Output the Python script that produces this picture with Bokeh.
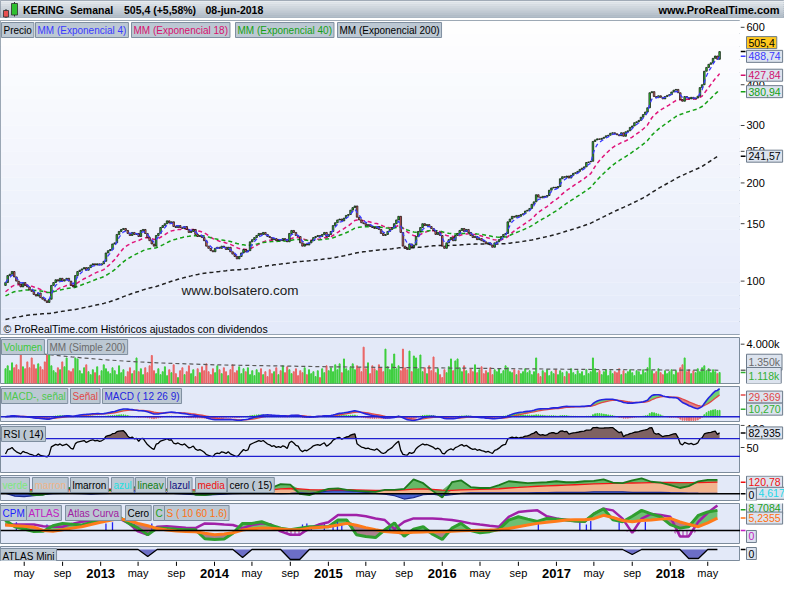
import numpy as np
import pandas as pd
from bokeh.plotting import figure
from bokeh.layouts import column, row
from bokeh.models import Range1d, ColumnDataSource, Label, Span, BoxAnnotation
from bokeh.core.properties import value
from bokeh.embed import file_html
from bokeh.resources import INLINE

# ---------------- data ----------------
last_week = "2018-06-08"
first_open = 97.0
closes = [
    99, 104, 105, 107, 103, 100, 98, 96, 99, 97,
    96, 94, 93, 91, 90, 92, 89, 88, 87, 86,
    88, 97, 99, 101, 100, 102, 100, 101, 102, 100,
    97, 96, 104, 107, 108, 109, 110, 108, 110, 112,
    113, 112, 113, 112, 113, 115, 122, 124, 125, 130,
    131, 139, 142, 144, 145, 143, 140, 138, 141, 139,
    140, 137, 143, 144, 140, 136, 133, 130, 128, 138,
    140, 146, 148, 150, 153, 151, 152, 147, 146, 148,
    146, 145, 147, 144, 141, 142, 144, 139, 137, 138,
    136, 133, 128, 126, 124, 123, 126, 127, 126, 128,
    127, 125, 127, 123, 121, 119, 117, 119, 122, 125,
    123, 124, 132, 134, 136, 138, 140, 139, 141, 139,
    137, 136, 134, 135, 133, 134, 133, 135, 134, 132,
    140, 143, 141, 138, 137, 131, 128, 130, 129, 131,
    133, 136, 137, 138, 137, 139, 141, 137, 139, 142,
    148, 151, 154, 155, 153, 156, 159, 160, 165, 168,
    170, 157, 154, 151, 150, 148, 149, 147, 146, 145,
    147, 144, 140, 138, 139, 142, 144, 146, 150, 154,
    158, 141, 128, 126, 125, 130, 127, 129, 137, 142,
    146, 150, 148, 149, 147, 145, 143, 139, 141, 138,
    128, 126, 131, 134, 136, 133, 138, 140, 143, 145,
    142, 144, 141, 138, 136, 137, 134, 135, 133, 132,
    130, 131, 129, 127, 131, 132, 134, 137, 139, 140,
    152, 155, 158, 157, 159, 158, 160, 161, 164, 165,
    167, 172, 175, 184, 181, 180, 182, 181, 183, 190,
    193, 194, 193, 195, 206, 209, 208, 210, 207, 211,
    214, 215, 217, 220, 222, 224, 231, 232, 233, 268,
    271, 273, 272, 274, 276, 279, 280, 284, 285, 283,
    281, 279, 285, 278, 287, 289, 296, 299, 306, 308,
    311, 318, 324, 330, 340, 378, 381, 368, 365, 370,
    366, 362, 368, 371, 373, 380, 385, 387, 378, 360,
    356, 368, 365, 362, 366, 362, 364, 369, 392, 400,
    440, 452, 462, 467, 482, 490, 478.7, 505.4,
]
volumes = [  # thousands of shares
    1500, 1800, 1300, 2100, 1600, 1900, 1400, 3200, 1700, 1500,
    2200, 1600, 2600, 1900, 1500, 2000, 1700, 1400, 2200, 2900,
    3200, 1800, 1300, 1100, 1600, 1400, 2200, 1700, 2600, 1300,
    1200, 1500, 2600, 2500, 1300, 1000, 1600, 1900, 1200, 900,
    1400, 1100, 1700, 800, 1300, 1900, 1500, 1200, 1000, 1600,
    1300, 900, 1800, 1100, 1400, 700, 1200, 1600, 1000, 1300,
    2600, 1200, 1500, 900, 1600, 1100, 1800, 2850, 1300, 1000,
    1500, 900, 1200, 1700, 800, 1400, 1100, 1900, 1000, 600,
    1300, 1600, 900, 1200, 1800, 1000, 1400, 700, 1500, 1100,
    1700, 1300, 2000, 1200, 900, 1500, 1100, 1800, 1400, 1000,
    1600, 1200, 800, 1400, 1900, 1100, 1300, 1700, 1000, 1500,
    1200, 1600, 900, 1300, 800, 1400, 1100, 1500, 900, 1200,
    700, 1400, 1000, 1200, 1600, 900, 1300, 1800, 1100, 1700,
    1400, 1000, 1200, 1500, 800, 1300, 1100, 1600, 900, 1400,
    1000, 1200, 700, 1300, 600, 1500, 1100, 1800, 1300, 1600,
    1200, 1900, 1400, 2000, 1100, 2500, 1500, 1300, 1700, 2000,
    1400, 1800, 1600, 1200, 3700, 1500, 2100, 1000, 1800, 1500,
    1300, 1900, 1600, 1200, 3500, 1700, 1400, 2000, 3000, 1500,
    1800, 1300, 3500, 1600, 1400, 3300, 1200, 2800, 2600, 1500,
    2900, 1200, 1600, 1000, 1800, 1300, 2700, 1100, 1500, 900,
    600, 1400, 1100, 1700, 2500, 1300, 2300, 2500, 1600, 1200,
    1800, 1300, 1000, 1500, 1200, 1900, 1100, 1400, 1700, 1000,
    1300, 1100, 1600, 900, 1400, 1200, 1500, 1000, 1300, 1800,
    1600, 1200, 1100, 1400, 900, 1300, 1000, 1200, 1500, 1100,
    1300, 900, 1200, 2600, 1000, 700, 1300, 1100, 1400, 800,
    1200, 1000, 1400, 900, 1300, 1100, 700, 1200, 1000, 1500,
    1100, 900, 1300, 1000, 1200, 800, 1400, 1000, 1200, 2600,
    1500, 1100, 1300, 900, 1200, 1400, 800, 1300, 1000, 1200,
    1100, 1500, 900, 1300, 1000, 1200, 1400, 1100, 800, 1300,
    1200, 900, 1400, 1100, 1600, 2600, 1300, 1000, 1200, 1500,
    1100, 900, 1300, 1000, 1200, 1400, 900, 1300, 1100, 1600,
    1900, 2600, 1200, 1400, 1000, 1300, 1100, 1500, 1200, 1600,
    1800, 1300, 1500, 1100, 1400, 1200, 1000, 1118,
]
ema_periods = [4, 18, 40, 200]
ema_first_values = [99.0, 92.0, 89.6, 76.0]

vol_sma_dates = ["2012-04-01", "2012-07-01", "2012-10-01", "2013-01-01", "2013-04-01",
                 "2013-07-01", "2013-10-01", "2014-01-01", "2014-04-01", "2014-07-01",
                 "2014-10-01", "2015-01-01", "2015-04-01", "2015-07-01", "2015-10-01",
                 "2016-01-01", "2016-04-01", "2016-07-01", "2016-10-01", "2017-01-01",
                 "2017-04-01", "2017-07-01", "2017-10-01", "2018-01-01", "2018-06-08"]
vol_sma = [3250, 3000, 2700, 2450, 2250, 2100, 2000, 1900, 1850, 1800, 1750, 1700, 1670,
           1640, 1610, 1580, 1550, 1520, 1490, 1460, 1430, 1410, 1390, 1370, 1350]

# monthly readings of the custom indicators (Mar 2012 .. Jun 2018)
month_start = "2012-03-01"
media = [45, 45, 44, 42, 40, 40, 42, 44, 46, 48,
         48, 47, 46, 47, 50, 52, 50, 48, 46, 44, 40, 36,
         33, 30, 30, 32, 34, 36, 40, 50, 55, 50, 44, 40,
         40, 42, 42, 40, 38, 36, 35, 36, 40, 48, 50, 45,
         38, 36, 40, 44, 46, 48, 52, 60, 66, 72, 78, 82,
         86, 90, 94, 98, 102, 106, 108, 110, 112, 114, 116, 117,
         117, 116, 116, 117, 119, 121]
lineav = [50, 45, 20, -15, -10, 20, 55, 60, 50, 45,
          40, 35, 40, 55, 75, 70, 50, 40, 45, 30, -10, -15,
          0, 20, 30, 35, 40, 50, 60, 100, 95, 0, -15, 20,
          50, 55, 40, 30, 25, 20, 40, 40, 50, 150, 110, 30,
          -40, 120, 140, 70, 60, 60, 90, 130, 120, 110, 115, 120,
          130, 120, 120, 130, 135, 150, 115, 110, 140, 160, 125, 115,
          90, 60, 80, 130, 145, 145]
lazul = [5, -25, -30, -20, -10, 0, 5, 5, 0, -5,
         0, 5, 10, 20, 45, 50, 30, 10, 0, -5, -10, -15,
         -10, -5, 0, 5, 10, 10, 5, 0, 5, 10, 5, 15,
         30, 35, 30, 25, 15, 5, -5, -20, -55, -40, -10, -5,
         -20, -10, 5, 10, 10, 10, 10, 10, 10, 10, 12, 12,
         15, 15, 15, 15, 20, 20, 20, 20, 15, 15, 15, 15,
         12, 10, 8, 6, 5, 5]
curve_s = [2.3, 2.0, 1.8, 1.4, 0.0, -0.3, 0.3, 1.0, 1.6, 2.5,
           3.5, 4.3, 5.0, 4.2, 3.0, 2.0, 0.8, 0.2, -0.2, -0.4, -0.5, -1.2,
           -1.8, -1.5, -1.0, 0.2, 0.7, 1.0, 0.9, 0.6, 0.3, 0.3, 1.0, 1.3,
           1.6, 2.3, 3.0, 2.2, 1.2, 0.3, -0.4, -0.7, -1.0, -0.8, -0.6, -0.4,
           -0.5, -0.3, -0.1, 0.0, 0.1, 0.2, 0.3, 0.8, 1.6, 2.3, 3.0, 3.5,
           3.9, 4.4, 4.5, 4.5, 5.0, 6.4, 5.5, 4.2, 3.7, 4.2, 4.4, 4.8,
           5.1, 3.6, 2.6, 1.6, 3.2, 5.2]
curve_c = [4.4, 1.6, 0.6, -0.4, -0.3, 2.0, 3.0, 2.6, 2.3, 3.3,
           4.4, 5.2, 5.8, 3.0, 1.0, -1.8, 1.0, 0.8, 0.5, 0.3, 0.3, -3.5,
           -3.8, -3.6, -1.2, 3.0, 3.0, 3.7, 2.2, 1.0, 0.3, 1.0, 1.6, 1.6,
           1.6, 4.4, 4.4, -1.8, -2.5, -3.0, 0.3, 3.2, -2.5, 0.5, 1.6, -1.6,
           -3.8, 1.0, 3.0, 0.0, -1.0, -0.5, 0.5, 4.4, 5.8, 4.8, 3.8, 5.1,
           4.8, 4.4, 4.0, 3.8, 7.0, 9.2, 4.5, 3.7, 6.0, 8.5, 7.0, 5.8,
           2.5, 1.0, 1.6, 6.4, 7.8, 8.5]
atlas = [2.3, 2.5, 2.5, 2.5, 1.8, 1.6, 1.6, 2.8, 3.7, 4.0,
         4.4, 4.8, 5.1, 3.0, -0.4, -1.8, 1.6, 1.8, 1.5, 1.2, 1.0, 3.0,
         2.8, 2.5, 2.3, 1.0, 2.3, 3.0, 2.5, -0.4, -1.8, -1.8, 1.0, 2.5,
         3.5, 6.5, 6.5, 6.5, 6.0, 5.1, 4.4, 0.6, 3.7, 5.1, 5.1, 5.1,
         4.8, 4.4, 3.8, 3.0, 2.5, 2.0, 1.6, 5.8, 7.8, 8.2, 8.5, 6.0,
         5.1, 4.4, 4.0, 3.7, 7.0, 9.2, 8.5, 5.0, -1.0, 5.0, 7.0, 6.5,
         5.8, -2.5, -2.5, 3.7, 7.5, 10.6]
atlas_mini = [0, 0, 0, 0, 0, 0, 0, 0, 0, 0,
              0, 0, 0, 0, 0, -0.7, 0, 0, 0, 0, 0, 0,
              0, 0, 0, -0.8, 0, 0, 0, 0, -1.0, -1.0, 0, 0,
              0, 0, 0, 0, 0, 0, 0, 0, 0, 0, 0, 0,
              0, 0, 0, 0, 0, 0, 0, 0, 0, 0, 0, 0,
              0, 0, 0, 0, 0, 0, 0, 0, -0.5, 0, 0, 0,
              0, 0, -0.9, -0.9, 0, 0]
cpm_dates = ["2012-04-06", "2012-07-13", "2013-01-18", "2013-02-08", "2013-04-19",
             "2013-06-14", "2014-10-10", "2014-10-24", "2014-11-07", "2014-12-19",
             "2015-01-16", "2015-01-30", "2015-02-13", "2015-07-17", "2016-11-04",
             "2017-03-17", "2017-04-07", "2017-04-21", "2017-07-21", "2017-10-13"]
cpm_heights = [3.5, 2.5, 3.0, 3.5, 2.5, 3.0, 2.5, 3.0, 2.0, 3.0,
               3.5, 4.0, 3.0, 2.5, 3.0, 3.5, 2.5, 4.0, 3.5, 3.7]

price_ticks = [100, 150, 200, 250, 300, 400, 600]
price_tick_labels = ["100", "150", "200", "250", "300", "400", "600"]
xtick_dates = ["2012-05-01", "2012-09-01", "2013-01-01", "2013-05-01", "2013-09-01",
               "2014-01-01", "2014-05-01", "2014-09-01", "2015-01-01", "2015-05-01",
               "2015-09-01", "2016-01-01", "2016-05-01", "2016-09-01", "2017-01-01",
               "2017-05-01", "2017-09-01", "2018-01-01", "2018-05-01"]
xtick_labels = ["may", "sep", "2013", "may", "sep", "2014", "may", "sep", "2015", "may",
                "sep", "2016", "may", "sep", "2017", "may", "sep", "2018", "may"]

# ---------------- derived series ----------------
n = len(closes)
dates = pd.date_range(end=last_week, periods=n, freq="7D")
close = np.array(closes, dtype=float)
opens = np.concatenate([[first_open], close[:-1]])
up = close >= opens


def ema(vals, period, start):
    a = 2.0 / (period + 1)
    out = np.empty(len(vals))
    e = start
    for i, v in enumerate(vals):
        e = e + a * (v - e)
        out[i] = e
    return out


emas = [ema(close, p_, s_) for p_, s_ in zip(ema_periods, ema_first_values)]
macd = ema(close, 12, close[0]) - ema(close, 26, close[0])
signal = ema(macd, 9, 0.0)
hist = macd - signal

ch = np.diff(close)
gain = np.clip(ch, 0, None)
loss = np.clip(-ch, 0, None)
ag, al = gain[:14].mean(), loss[:14].mean()
rsi = np.empty(n)
rsi[0] = 100 - 100 / (1 + ag / al)
for i in range(1, n):
    ag = (ag * 13 + gain[i - 1]) / 14
    al = (al * 13 + loss[i - 1]) / 14
    rsi[i] = 100 - 100 / (1 + ag / al) if al > 0 else 100.0

mdates = pd.date_range(month_start, periods=len(media), freq="MS")
media_a = np.array(media, float)
lineav_a = np.array(lineav, float)
lazul_a = np.array(lazul, float)
cs = np.array(curve_s, float)
cc = np.array(curve_c, float)
at = np.array(atlas, float)
mini = np.array(atlas_mini, float)

# ---------------- styling helpers ----------------
FW = 740
RB = 44
FONT = "Liberation Sans"
DAY = 86400000
GREEN = "#3CCF3C"
RED = "#EA6464"
PANEL_BG = "#E3E9F8"
EDGE = "#7D8C9C"
LEG_BG = "#BCC8D3"
LEG_EDGE = "#7F8FA0"
BOX_BG = "#DCE3EE"

xr = Range1d(start=pd.Timestamp("2012-02-15"), end=pd.Timestamp("2018-08-14"))


def panel(fh, yr, ylog=False, bg=PANEL_BG, bottom=1):
    p = figure(frame_width=FW, frame_height=fh, x_range=xr, y_range=yr,
               y_axis_type="log" if ylog else "linear",
               x_axis_location=None, y_axis_location=None,
               toolbar_location=None, output_backend="svg",
               min_border_left=0, min_border_right=0, min_border_top=2,
               min_border_bottom=bottom,
               background_fill_color=bg, border_fill_color="white",
               outline_line_color=EDGE, outline_line_width=1)
    p.grid.visible = False
    return p


def axis_fig(fh, yr, ylog=False, ticks=(), labels=(), bottom=1, top_tick=None):
    a = figure(frame_width=RB, frame_height=fh, x_range=Range1d(0, RB), y_range=yr,
               y_axis_type="log" if ylog else "linear",
               x_axis_location=None, y_axis_location=None,
               toolbar_location=None, output_backend="svg",
               min_border_left=0, min_border_right=0, min_border_top=2,
               min_border_bottom=bottom, outline_line_color=None,
               background_fill_color="white", border_fill_color="white")
    a.grid.visible = False
    if len(ticks):
        a.segment(x0=0, y0=list(ticks), x1=4, y1=list(ticks), line_color="#404040", line_width=1)
        a.text(x=6, y=list(ticks), text=list(labels), text_baseline="middle", text_align="left",
               text_font=value(FONT), text_font_size="11px", text_color="#000000")
    if top_tick is not None:
        tv, tl = top_tick
        a.segment(x0=[0], y0=[tv], x1=[4], y1=[tv], line_color="#404040", line_width=1)
        a.text(x=[6], y=[tv], text=[tl], text_baseline="top", text_align="left",
               text_font=value(FONT), text_font_size="11px", text_color="#000000")
    return a


def legend(p, fh, items):
    for x, txt, col in items:
        p.add_layout(Label(x=x, y=fh - 2, x_units="screen", y_units="screen",
                           text=txt, text_color=col, text_font=FONT, text_font_size="10px",
                           text_baseline="top", text_align="left",
                           background_fill_color=LEG_BG, border_line_color=LEG_EDGE,
                           padding=2))


def vbox(a, y, txt, col, bg=BOX_BG, dy=0, x=6, tick=True):
    if tick:
        a.segment(x0=[0], y0=[y], x1=[5], y1=[y], line_color=col, line_width=1.5)
    a.add_layout(Label(x=x, y=y, x_units="data", y_units="data", y_offset=dy,
                       text=txt, text_color=col, text_font=FONT, text_font_size="10.5px",
                       text_baseline="middle", text_align="left",
                       background_fill_color=bg, border_line_color="#6E7C8C",
                       padding=2))


# ---------------- title bar ----------------
pt = figure(frame_width=784, frame_height=18, x_range=Range1d(0, 784), y_range=Range1d(0, 18),
            x_axis_location=None, y_axis_location=None, toolbar_location=None,
            output_backend="svg", min_border=0, outline_line_color="#8A96A4",
            background_fill_color="#C8D0D8")
pt.grid.visible = False
bands_top = np.array([232, 236, 240])
bands_bot = np.array([170, 182, 194])
for k in range(9):
    t = k / 8.0
    rgb = (bands_top * (1 - t) + bands_bot * t).astype(int)
    pt.quad(left=0, right=784, top=18 - 2 * k, bottom=16 - 2 * k,
            fill_color="#%02x%02x%02x" % tuple(rgb), line_color=None)
pt.segment(x0=[5.5, 14], y0=[0.5, 2], x1=[5.5, 14], y1=[9.5, 16.5], line_color="#303030", line_width=1)
pt.quad(left=[3, 11], right=[8, 17], bottom=[1.5, 3.5], top=[8, 15],
        fill_color=["#E85050", "#30C030"], line_color="#303030", line_width=0.8)
pt.text(x=[22.5, 69.5, 123.5, 205], y=[9, 9, 9, 9],
        text=["KERING", "Semanal", "505,4 (+5,58%)", "08-jun-2018"],
        text_font=value(FONT), text_font_style="bold", text_font_size="10.5px",
        text_baseline="middle", text_color="#000000")
pt.text(x=[779], y=[9], text=["www.ProRealTime.com"], text_font=value(FONT),
        text_font_style="bold", text_font_size="11px", text_baseline="middle",
        text_align="right", text_color="#000000")

# ---------------- main price panel ----------------
MH = 314
ylo, yhi = 68.6, 629.5
main_yr = Range1d(ylo, yhi)
pm = panel(MH, main_yr, ylog=True, bg="#FFFFFF")
g_top = np.array([255, 255, 255])
g_bot = np.array([228, 234, 250])
NB = 24
edges = np.geomspace(yhi, ylo, NB + 1)
for k in range(NB):
    t = (k + 0.5) / NB
    rgb = (g_top * (1 - t) + g_bot * t).astype(int)
    pm.add_layout(BoxAnnotation(bottom=edges[k + 1], top=edges[k],
                                fill_color="#%02x%02x%02x" % tuple(rgb), fill_alpha=1,
                                line_color=None, level="underlay"))

ema_colors = ["#3A3AFF", "#E0147A", "#14A014", "#202020"]
for vals, col in list(zip(emas, ema_colors))[1:]:
    pm.line(dates, vals, line_color=col, line_width=1.5, line_dash="4 3")
csrc = ColumnDataSource(dict(x=dates, top=np.maximum(opens, close), bottom=np.minimum(opens, close),
                             color=np.where(up, "#39D339", "#EC6B6B")))
pm.vbar(x="x", top="top", bottom="bottom", width=5 * DAY, fill_color="color",
        line_color="#000000", line_width=0.7, source=csrc)
pm.line(dates, emas[0], line_color=ema_colors[0], line_width=1.3, line_dash="4 3")

legend(pm, MH, [(1, "Precio", "#000000"), (35, "MM (Exponencial 4)", "#3A3AFF"),
                (131, "MM (Exponencial 18)", "#D8106E"), (235, "MM (Exponencial 40)", "#14A014"),
                (337, "MM (Exponencial 200)", "#000000")])
pm.add_layout(Label(x=181, y=44, x_units="screen", y_units="screen", text="www.bolsatero.com",
                    text_font=FONT, text_font_size="13.5px", text_color="#202020",
                    text_baseline="middle"))
pm.add_layout(Label(x=3, y=6, x_units="screen", y_units="screen",
                    text="© ProRealTime.com  Históricos ajustados con dividendos",
                    text_font=FONT, text_font_size="10.5px", text_color="#000000",
                    text_baseline="middle"))
am = axis_fig(MH, main_yr, ylog=True, ticks=price_ticks, labels=price_tick_labels)
vbox(am, 505.4, "505,4", "#000000", bg="#FFC81E", dy=9)
vbox(am, 488.74, "488,74", "#3A3AFF")
vbox(am, 427.84, "427,84", "#D0106E")
vbox(am, 380.94, "380,94", "#14A014")
vbox(am, 241.57, "241,57", "#000000")

# ---------------- volume ----------------
VH = 46
vol_yr = Range1d(0, 4680)
pv = panel(VH, vol_yr)
pv.vbar(x=dates, top=volumes, width=3.2 * DAY, color=np.where(up, GREEN, RED))
pv.line(pd.to_datetime(vol_sma_dates), vol_sma, line_color="#5A5A5A", line_width=1.2, line_dash="4 3")
legend(pv, VH, [(1, "Volumen", "#3CC83C"), (47, "MM (Simple 200)", "#6A6A6A")])
av = axis_fig(VH, vol_yr, ticks=[4000], labels=["4.000k"])
vbox(av, 1350, "1.350k", "#6A6A6A", dy=8)
vbox(av, 1118, "1.118k", "#30B030", dy=-3)

# ---------------- MACD ----------------
DH = 35
macd_yr = Range1d(-6.5, 41)
pdm = panel(DH, macd_yr)
pdm.varea(x=dates, y1=signal, y2=np.maximum(macd, signal), fill_color="#5CCB5C", fill_alpha=0.85)
pdm.varea(x=dates, y1=np.minimum(macd, signal), y2=signal, fill_color="#E07070", fill_alpha=0.85)
pdm.vbar(x=dates, top=hist, width=2.6 * DAY, color=np.where(hist >= 0, GREEN, RED))
pdm.add_layout(Span(location=0, dimension="width", line_color="#2020D0", line_width=1.5))
pdm.line(dates, signal, line_color="#E04848", line_width=1.3)
pdm.line(dates, macd, line_color="#2424E0", line_width=1.6)
legend(pdm, DH, [(1, "MACD-, señal", "#4CC84C"), (70, "Señal", "#E04848"),
                 (102, "MACD ( 12 26 9)", "#2424E0")])
ad = axis_fig(DH, macd_yr)
vbox(ad, 29.369, "29,369", "#E04848", dy=-2)
vbox(ad, 10.27, "10,270", "#30B030")

# ---------------- RSI ----------------
RH = 48
rsi_yr = Range1d(-6.5, 102)
pr = panel(RH, rsi_yr)
pr.varea(x=dates, y1=70, y2=np.maximum(rsi, 70), fill_color="#7E6262")
pr.add_layout(Span(location=70, dimension="width", line_color="#2020D0", line_width=1.4))
pr.add_layout(Span(location=30, dimension="width", line_color="#2020D0", line_width=1.4))
pr.line(dates, rsi, line_color="#000000", line_width=1.3)
legend(pr, RH, [(1, "RSI ( 14)", "#000000")])
ar = axis_fig(RH, rsi_yr, ticks=[50], labels=["50"], top_tick=(100, "100"))
vbox(ar, 82.935, "82,935", "#000000")

# ---------------- custom oscillator (15) ----------------
P5H = 25
p5_yr = Range1d(-70, 190)
p5 = panel(P5H, p5_yr)
p5.varea(x=mdates, y1=0, y2=media_a, fill_color="#F2B48E")
p5.varea(x=mdates, y1=media_a, y2=np.maximum(lineav_a, media_a), fill_color="#4FB04F", fill_alpha=0.85)
p5.varea(x=mdates, y1=np.minimum(lineav_a, media_a), y2=media_a, fill_color="#3C8C3C", fill_alpha=0.7)
p5.varea(x=mdates, y1=0, y2=lazul_a, fill_color="#4A64D0")
p5.add_layout(Span(location=0, dimension="width", line_color="#000000", line_width=1.6))
p5.line(mdates, lazul_a, line_color="#1A2A90", line_width=1.2)
p5.line(mdates, media_a, line_color="#F01818", line_width=1.3)
p5.line(mdates, lineav_a, line_color="#1C7A1C", line_width=1.8)
legend(p5, P5H, [(0, "verde", "#7CE87C"), (32, "marron", "#F0B488"), (70, "lmarron", "#000000"),
                 (111, "azul", "#20E0E0"), (135, "lineav", "#108010"), (167, "lazul", "#101080"),
                 (195, "media", "#F01010"), (227, "cero ( 15)", "#000000")])
a5 = axis_fig(P5H, p5_yr)
vbox(a5, 120.78, "120,78", "#F01010")
vbox(a5, 4.617, "4,617", "#20D8E8", x=16, tick=False)
vbox(a5, 0, "0", "#000000", dy=-1)

# ---------------- CPM / ATLAS ----------------
CH = 40
cpm_yr = Range1d(-5.5, 11.4)
pc = panel(CH, cpm_yr)
pc.varea(x=mdates, y1=cs, y2=np.maximum(cc, cs), fill_color="#45B045", fill_alpha=0.75)
pc.varea(x=mdates, y1=np.minimum(cc, cs), y2=cs, fill_color="#9C5C6C", fill_alpha=0.75)
pc.varea(x=mdates, y1=np.minimum(at, 0), y2=0, fill_alpha=0, hatch_pattern="|",
         hatch_color="#A020A0", hatch_weight=1, hatch_scale=4)
pc.add_layout(Span(location=0, dimension="width", line_color="#000000", line_width=1.6))
cpm_x = pd.to_datetime(cpm_dates)
pc.segment(x0=cpm_x, y0=0, x1=cpm_x, y1=cpm_heights, line_color="#2020F0", line_width=1.3)
pc.line(mdates, at, line_color="#A021A8", line_width=2.5)
pc.line(mdates, cc, line_color="#2F9F2F", line_width=3)
pc.line(mdates, cs, line_color="#FF7A1A", line_width=3)
legend(pc, CH, [(0, "CPM", "#2020FF"), (26, "ATLAS", "#C020C0"), (65, "Atlas Curva", "#A020A0"),
                (125, "Cero", "#000000"), (153, "C", "#20A020"), (164, "S ( 10 60 1.6)", "#FF7010")])
ac = axis_fig(CH, cpm_yr)
vbox(ac, 8.7084, "8,7084", "#20A020", dy=2)
vbox(ac, 5.2355, "5,2355", "#FF7010")
vbox(ac, 0, "0", "#C020C0", dy=-6)

# ---------------- ATLAS Mini ----------------
AH = 15
mini_yr = Range1d(-1.2, 0.3)
pa = panel(AH, mini_yr, bottom=0)
pa.varea(x=mdates, y1=mini, y2=0, fill_color="#6C6EC6")
pa.line(mdates, mini, line_color="#000000", line_width=1.3)
legend(pa, AH, [(0, "ATLAS Mini", "#000000")])
aa = axis_fig(AH, mini_yr, bottom=0)
vbox(aa, 0, "0", "#000000", dy=-4)

# ---------------- time axis strip ----------------
px = figure(frame_width=FW, frame_height=20, x_range=xr, y_range=Range1d(0, 1),
            x_axis_location=None, y_axis_location=None, toolbar_location=None,
            output_backend="svg", min_border_left=0, min_border_right=RB,
            min_border_top=0, min_border_bottom=0, outline_line_color=None,
            background_fill_color="white", border_fill_color="white")
px.grid.visible = False
tx = pd.to_datetime(xtick_dates)
px.segment(x0=tx, y0=1, x1=tx, y1=0.78, line_color="#000000", line_width=1)
is_year = np.array([s.isdigit() for s in xtick_labels])
labels_arr = np.array(xtick_labels)
px.text(x=tx[~is_year], y=0.42, text=list(labels_arr[~is_year]), text_align="center",
        text_baseline="middle", text_font=value(FONT), text_font_size="11px", text_color="#000000")
px.text(x=tx[is_year], y=0.42, text=list(labels_arr[is_year]), text_align="center",
        text_baseline="middle", text_font=value(FONT), text_font_style="bold",
        text_font_size="13px", text_color="#000000")

layout = column(pt, row(pm, am), row(pv, av), row(pdm, ad), row(pr, ar),
                row(p5, a5), row(pc, ac), row(pa, aa), px, spacing=0)
open("out.html", "w").write(file_html(layout, INLINE, title="KERING Semanal"))
